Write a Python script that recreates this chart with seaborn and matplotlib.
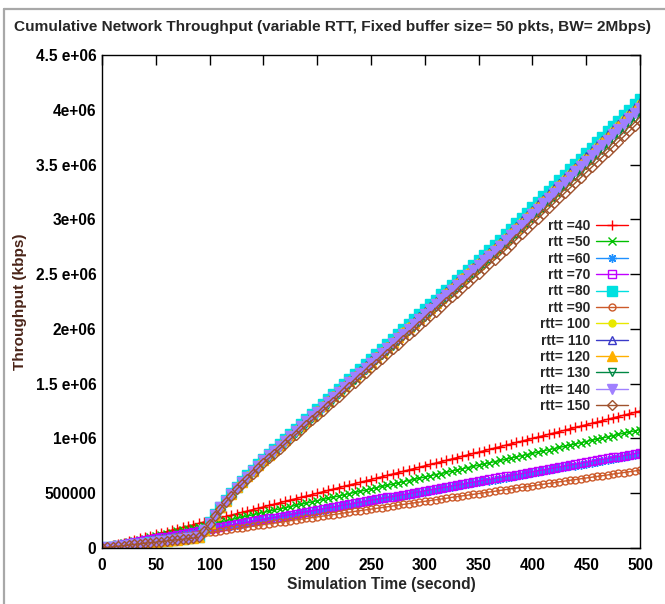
import numpy as np
import pandas as pd
import matplotlib
matplotlib.use("Agg")
import matplotlib.pyplot as plt
from matplotlib.lines import Line2D
import seaborn as sns

# ---------------- data (values in units of 1e6 kbps) ----------------
time_s = list(range(0, 505, 5))

rtt40 = [0.000, 0.013, 0.025, 0.038, 0.050, 0.063, 0.075, 0.088, 0.100, 0.113, 0.125, 0.138, 0.150, 0.163, 0.175, 0.188, 0.200, 0.213, 0.225, 0.238,
         0.250, 0.263, 0.275, 0.288, 0.300, 0.313, 0.325, 0.338, 0.350, 0.363, 0.375, 0.388, 0.400, 0.413, 0.425, 0.438, 0.450, 0.463, 0.475, 0.488,
         0.500, 0.513, 0.525, 0.538, 0.550, 0.563, 0.575, 0.588, 0.600, 0.613, 0.625, 0.638, 0.650, 0.663, 0.675, 0.688, 0.700, 0.713, 0.725, 0.738,
         0.750, 0.763, 0.775, 0.788, 0.800, 0.813, 0.825, 0.838, 0.850, 0.863, 0.875, 0.888, 0.900, 0.913, 0.925, 0.938, 0.950, 0.963, 0.975, 0.988,
         1.000, 1.013, 1.025, 1.038, 1.050, 1.063, 1.075, 1.088, 1.100, 1.113, 1.125, 1.138, 1.150, 1.163, 1.175, 1.188, 1.200, 1.213, 1.225, 1.238,
         1.250]
rtt50 = [0.000, 0.011, 0.022, 0.032, 0.043, 0.054, 0.065, 0.076, 0.086, 0.097, 0.108, 0.119, 0.130, 0.140, 0.151, 0.162, 0.173, 0.184, 0.194, 0.205,
         0.216, 0.227, 0.238, 0.248, 0.259, 0.270, 0.281, 0.292, 0.302, 0.313, 0.324, 0.335, 0.346, 0.356, 0.367, 0.378, 0.389, 0.400, 0.410, 0.421,
         0.432, 0.443, 0.454, 0.464, 0.475, 0.486, 0.497, 0.508, 0.518, 0.529, 0.540, 0.551, 0.562, 0.572, 0.583, 0.594, 0.605, 0.616, 0.626, 0.637,
         0.648, 0.659, 0.670, 0.680, 0.691, 0.702, 0.713, 0.724, 0.734, 0.745, 0.756, 0.767, 0.778, 0.788, 0.799, 0.810, 0.821, 0.832, 0.842, 0.853,
         0.864, 0.875, 0.886, 0.896, 0.907, 0.918, 0.929, 0.940, 0.950, 0.961, 0.972, 0.983, 0.994, 1.004, 1.015, 1.026, 1.037, 1.048, 1.058, 1.069,
         1.080]
rtt60 = [0.000, 0.009, 0.017, 0.026, 0.034, 0.043, 0.051, 0.060, 0.068, 0.077, 0.086, 0.094, 0.103, 0.111, 0.120, 0.128, 0.137, 0.145, 0.154, 0.162,
         0.171, 0.180, 0.188, 0.197, 0.205, 0.214, 0.222, 0.231, 0.239, 0.248, 0.257, 0.265, 0.274, 0.282, 0.291, 0.299, 0.308, 0.316, 0.325, 0.333,
         0.342, 0.351, 0.359, 0.368, 0.376, 0.385, 0.393, 0.402, 0.410, 0.419, 0.428, 0.436, 0.445, 0.453, 0.462, 0.470, 0.479, 0.487, 0.496, 0.504,
         0.513, 0.522, 0.530, 0.539, 0.547, 0.556, 0.564, 0.573, 0.581, 0.590, 0.599, 0.607, 0.616, 0.624, 0.633, 0.641, 0.650, 0.658, 0.667, 0.675,
         0.684, 0.693, 0.701, 0.710, 0.718, 0.727, 0.735, 0.744, 0.752, 0.761, 0.770, 0.778, 0.787, 0.795, 0.804, 0.812, 0.821, 0.829, 0.838, 0.846,
         0.855]
rtt70 = [0.000, 0.009, 0.017, 0.026, 0.035, 0.044, 0.052, 0.061, 0.070, 0.078, 0.087, 0.096, 0.104, 0.113, 0.122, 0.131, 0.139, 0.148, 0.157, 0.165,
         0.174, 0.183, 0.191, 0.200, 0.209, 0.218, 0.226, 0.235, 0.244, 0.252, 0.261, 0.270, 0.278, 0.287, 0.296, 0.305, 0.313, 0.322, 0.331, 0.339,
         0.348, 0.357, 0.365, 0.374, 0.383, 0.392, 0.400, 0.409, 0.418, 0.426, 0.435, 0.444, 0.452, 0.461, 0.470, 0.479, 0.487, 0.496, 0.505, 0.513,
         0.522, 0.531, 0.539, 0.548, 0.557, 0.566, 0.574, 0.583, 0.592, 0.600, 0.609, 0.618, 0.626, 0.635, 0.644, 0.653, 0.661, 0.670, 0.679, 0.687,
         0.696, 0.705, 0.713, 0.722, 0.731, 0.740, 0.748, 0.757, 0.766, 0.774, 0.783, 0.792, 0.800, 0.809, 0.818, 0.827, 0.835, 0.844, 0.853, 0.861,
         0.870]
rtt80 = [0.000, 0.006, 0.011, 0.017, 0.022, 0.028, 0.034, 0.039, 0.045, 0.051, 0.056, 0.062, 0.067, 0.073, 0.079, 0.085, 0.090, 0.096, 0.102,
         0.163, 0.235, 0.306, 0.377, 0.439, 0.500, 0.561, 0.612, 0.663, 0.714, 0.765, 0.816,
         0.861, 0.907, 0.952, 0.998, 1.043, 1.088, 1.134, 1.179, 1.225, 1.270, 1.315, 1.361, 1.406, 1.452, 1.497, 1.542, 1.588, 1.633, 1.678, 1.724,
         1.769, 1.815, 1.860, 1.905, 1.951, 1.996, 2.042, 2.087, 2.132, 2.178, 2.223, 2.268, 2.314, 2.359, 2.405, 2.450, 2.495, 2.541, 2.586, 2.632,
         2.677, 2.722, 2.768, 2.813,
         2.863, 2.912, 2.962, 3.011, 3.060, 3.110, 3.159, 3.209, 3.258, 3.308, 3.357, 3.407, 3.456, 3.506, 3.555, 3.605, 3.654, 3.704, 3.753, 3.803,
         3.852, 3.901, 3.951, 4.000, 4.050, 4.099]
rtt90 = [0.000, 0.007, 0.014, 0.021, 0.028, 0.036, 0.043, 0.050, 0.057, 0.064, 0.071, 0.078, 0.085, 0.092, 0.099, 0.107, 0.114, 0.121, 0.128, 0.135,
         0.142, 0.149, 0.156, 0.163, 0.170, 0.178, 0.185, 0.192, 0.199, 0.206, 0.213, 0.220, 0.227, 0.234, 0.241, 0.249, 0.256, 0.263, 0.270, 0.277,
         0.284, 0.291, 0.298, 0.305, 0.312, 0.320, 0.327, 0.334, 0.341, 0.348, 0.355, 0.362, 0.369, 0.376, 0.383, 0.391, 0.398, 0.405, 0.412, 0.419,
         0.426, 0.433, 0.440, 0.447, 0.454, 0.462, 0.469, 0.476, 0.483, 0.490, 0.497, 0.504, 0.511, 0.518, 0.525, 0.533, 0.540, 0.547, 0.554, 0.561,
         0.568, 0.575, 0.582, 0.589, 0.596, 0.604, 0.611, 0.618, 0.625, 0.632, 0.639, 0.646, 0.653, 0.660, 0.667, 0.675, 0.682, 0.689, 0.696, 0.703,
         0.710]
rtt100 = [0.000, 0.006, 0.011, 0.017, 0.022, 0.028, 0.033, 0.039, 0.044, 0.050, 0.055, 0.061, 0.066, 0.072, 0.077, 0.083, 0.088, 0.094, 0.100,
          0.162, 0.232, 0.303, 0.374, 0.434, 0.495, 0.556, 0.606, 0.657, 0.707, 0.758, 0.808,
          0.853, 0.898, 0.943, 0.988, 1.033, 1.078, 1.123, 1.168, 1.213, 1.257, 1.302, 1.347, 1.392, 1.437, 1.482, 1.527, 1.572, 1.617, 1.662, 1.707,
          1.752, 1.797, 1.842, 1.887, 1.932, 1.977, 2.022, 2.066, 2.111, 2.156, 2.201, 2.246, 2.291, 2.336, 2.381, 2.426, 2.471, 2.516, 2.561, 2.606,
          2.651, 2.696, 2.741, 2.786,
          2.835, 2.884, 2.933, 2.982, 3.031, 3.079, 3.128, 3.177, 3.226, 3.275, 3.324, 3.373, 3.422, 3.471, 3.520, 3.569, 3.618, 3.667, 3.716, 3.765,
          3.814, 3.863, 3.912, 3.961, 4.010, 4.059]
rtt110 = [0.000, 0.006, 0.011, 0.017, 0.022, 0.028, 0.033, 0.039, 0.044, 0.050, 0.055, 0.061, 0.066, 0.072, 0.077, 0.083, 0.088, 0.094, 0.100,
          0.162, 0.233, 0.304, 0.375, 0.436, 0.496, 0.557, 0.608, 0.658, 0.709, 0.760, 0.810,
          0.855, 0.900, 0.945, 0.990, 1.035, 1.080, 1.126, 1.171, 1.216, 1.261, 1.306, 1.351, 1.396, 1.441, 1.486, 1.531, 1.576, 1.621, 1.666, 1.712,
          1.757, 1.802, 1.847, 1.892, 1.937, 1.982, 2.027, 2.072, 2.117, 2.162, 2.207, 2.253, 2.298, 2.343, 2.388, 2.433, 2.478, 2.523, 2.568, 2.613,
          2.658, 2.703, 2.748, 2.793,
          2.843, 2.892, 2.941, 2.990, 3.039, 3.088, 3.137, 3.186, 3.236, 3.285, 3.334, 3.383, 3.432, 3.481, 3.530, 3.580, 3.629, 3.678, 3.727, 3.776,
          3.825, 3.874, 3.923, 3.973, 4.022, 4.071]
rtt120 = [0.000, 0.006, 0.011, 0.017, 0.022, 0.028, 0.033, 0.039, 0.044, 0.050, 0.055, 0.061, 0.066, 0.072, 0.077, 0.083, 0.088, 0.094, 0.100,
          0.161, 0.231, 0.302, 0.372, 0.433, 0.493, 0.553, 0.604, 0.654, 0.704, 0.755, 0.805,
          0.850, 0.894, 0.939, 0.984, 1.029, 1.073, 1.118, 1.163, 1.208, 1.252, 1.297, 1.342, 1.387, 1.432, 1.476, 1.521, 1.566, 1.611, 1.655, 1.700,
          1.745, 1.790, 1.834, 1.879, 1.924, 1.969, 2.014, 2.058, 2.103, 2.148, 2.193, 2.237, 2.282, 2.327, 2.372, 2.416, 2.461, 2.506, 2.551, 2.595,
          2.640, 2.685, 2.730, 2.775,
          2.823, 2.872, 2.921, 2.970, 3.019, 3.067, 3.116, 3.165, 3.214, 3.262, 3.311, 3.360, 3.409, 3.458, 3.506, 3.555, 3.604, 3.653, 3.702, 3.750,
          3.799, 3.848, 3.897, 3.946, 3.994, 4.043]
rtt130 = [0.000, 0.006, 0.011, 0.017, 0.022, 0.028, 0.033, 0.039, 0.044, 0.050, 0.055, 0.061, 0.066, 0.072, 0.077, 0.083, 0.088, 0.094, 0.100,
          0.158, 0.227, 0.296, 0.366, 0.425, 0.484, 0.543, 0.593, 0.642, 0.692, 0.741, 0.790,
          0.834, 0.878, 0.922, 0.966, 1.010, 1.054, 1.098, 1.142, 1.186, 1.230, 1.274, 1.318, 1.362, 1.406, 1.450, 1.494, 1.538, 1.582, 1.626, 1.670,
          1.714, 1.758, 1.802, 1.846, 1.890, 1.934, 1.977, 2.021, 2.065, 2.109, 2.153, 2.197, 2.241, 2.285, 2.329, 2.373, 2.417, 2.461, 2.505, 2.549,
          2.593, 2.637, 2.681, 2.725,
          2.773, 2.821, 2.869, 2.917, 2.964, 3.012, 3.060, 3.108, 3.156, 3.204, 3.252, 3.300, 3.348, 3.396, 3.444, 3.492, 3.540, 3.587, 3.635, 3.683,
          3.731, 3.779, 3.827, 3.875, 3.923, 3.971]
rtt140 = [0.000, 0.006, 0.011, 0.017, 0.022, 0.028, 0.033, 0.039, 0.044, 0.050, 0.055, 0.061, 0.066, 0.072, 0.077, 0.083, 0.088, 0.094, 0.100,
          0.160, 0.230, 0.300, 0.370, 0.430, 0.490, 0.550, 0.600, 0.650, 0.700, 0.750, 0.800,
          0.845, 0.889, 0.934, 0.978, 1.023, 1.067, 1.112, 1.156, 1.201, 1.245, 1.290, 1.334, 1.379, 1.423, 1.468, 1.512, 1.557, 1.601, 1.646, 1.690,
          1.735, 1.779, 1.824, 1.868, 1.913, 1.957, 2.002, 2.046, 2.091, 2.135, 2.180, 2.224, 2.269, 2.313, 2.358, 2.402, 2.447, 2.491, 2.536, 2.580,
          2.625, 2.669, 2.714, 2.758,
          2.807, 2.855, 2.904, 2.952, 3.001, 3.049, 3.098, 3.146, 3.195, 3.243, 3.292, 3.340, 3.389, 3.437, 3.486, 3.534, 3.583, 3.631, 3.680, 3.728,
          3.777, 3.825, 3.874, 3.922, 3.971, 4.019]
rtt150 = [0.000, 0.005, 0.011, 0.016, 0.021, 0.027, 0.032, 0.037, 0.043, 0.048, 0.053, 0.059, 0.064, 0.070, 0.075, 0.080, 0.085, 0.091, 0.097,
          0.155, 0.223, 0.291, 0.359, 0.417, 0.475, 0.534, 0.582, 0.631, 0.679, 0.728, 0.776,
          0.819, 0.862, 0.905, 0.949, 0.992, 1.035, 1.078, 1.121, 1.164, 1.208, 1.251, 1.294, 1.337, 1.380, 1.423, 1.467, 1.510, 1.553, 1.596, 1.639,
          1.683, 1.726, 1.769, 1.812, 1.855, 1.898, 1.942, 1.985, 2.028, 2.071, 2.114, 2.157, 2.201, 2.244, 2.287, 2.330, 2.373, 2.416, 2.460, 2.503,
          2.546, 2.589, 2.632, 2.675,
          2.722, 2.769, 2.816, 2.864, 2.911, 2.958, 3.005, 3.052, 3.099, 3.146, 3.193, 3.240, 3.287, 3.334, 3.381, 3.428, 3.475, 3.522, 3.569, 3.616,
          3.663, 3.710, 3.757, 3.804, 3.851, 3.899]

series_labels = ["rtt =40", "rtt =50", "rtt =60", "rtt =70", "rtt =80", "rtt =90",
                 "rtt= 100", "rtt= 110", "rtt= 120", "rtt= 130", "rtt= 140", "rtt= 150"]
series_values = [rtt40, rtt50, rtt60, rtt70, rtt80, rtt90, rtt100, rtt110, rtt120, rtt130, rtt140, rtt150]

xtick_values = [0, 50, 100, 150, 200, 250, 300, 350, 400, 450, 500]
ytick_values = [0, 500000, 1000000, 1500000, 2000000, 2500000, 3000000, 3500000, 4000000, 4500000]
ytick_labels = ["0", "500000", "1e+06", "1.5 e+06", "2e+06", "2.5 e+06", "3e+06", "3.5 e+06", "4e+06", "4.5 e+06"]

title_text = "Cumulative Network Throughput (variable RTT, Fixed buffer size= 50 pkts, BW= 2Mbps)"

# ---------------- styles ----------------
colors = ["#ff0000", "#00c000", "#1e90ff", "#c000ff", "#00e0e0", "#cc5a2a",
          "#e8e800", "#3a3ac8", "#ffb000", "#008844", "#a080ff", "#a0522d"]
markers = ["+", "x", (8, 2, 0), "s", "s", "o", "o", "^", "^", "v", "v", "D"]
filled = [True, True, True, False, True, False, True, False, True, False, True, False]
msizes = [7.5, 5.8, 6.2, 6.0, 7.2, 5.0, 5.0, 6.2, 6.8, 6.0, 7.0, 4.6]

sns.set_theme(style="white")
plt.rcParams["font.family"] = ["Liberation Sans", "DejaVu Sans"]
plt.rcParams["font.weight"] = "bold"
plt.rcParams["axes.edgecolor"] = "black"
plt.rcParams["axes.linewidth"] = 1.0

W, H = 665, 604
fig = plt.figure(figsize=(W / 100, H / 100), dpi=100)
fig.patch.set_facecolor("white")
ax = fig.add_axes([102 / W, 1 - 548 / H, 538 / W, 493 / H])

frames = []
for lab, vals in zip(series_labels, series_values):
    frames.append(pd.DataFrame({"time": time_s, "thr": np.array(vals) * 1e6, "rtt": lab}))
df = pd.concat(frames, ignore_index=True)

handles = []
for lab, col, mk, fl, ms in zip(series_labels, colors, markers, filled, msizes):
    sub = df[df["rtt"] == lab]
    sns.lineplot(data=sub, x="time", y="thr", ax=ax, color=col, marker=mk,
                 markersize=ms, markerfacecolor=(col if fl else "none"),
                 markeredgecolor=col, markeredgewidth=1.0, linewidth=1.0,
                 errorbar=None, sort=False, legend=False)
    line = ax.lines[-1]
    line.set_label(lab)
    handles.append(line)

ax.set_xlim(0, 500)
ax.set_ylim(0, 4500000)
ax.set_xticks(xtick_values)
ax.set_xticklabels([str(v) for v in xtick_values])
ax.set_yticks(ytick_values)
ax.set_yticklabels(ytick_labels)
ax.tick_params(axis="both", direction="in", length=7, width=1, top=True, right=True,
               labelsize=11.2, colors="black")
ax.tick_params(axis="x", pad=7)
ax.tick_params(axis="y", pad=4)
for lbl in ax.get_xticklabels() + ax.get_yticklabels():
    lbl.set_fontweight("bold")
for sp in ax.spines.values():
    sp.set_visible(True)
    sp.set_color("black")
    sp.set_linewidth(1.0)

ax.set_xlabel("Simulation Time (second)", fontsize=11.2, fontweight="bold", va="center")
ax.xaxis.set_label_coords(0.52, (548 - 585) / 493)
ax.set_ylabel("Throughput (kbps)", fontsize=11.0, fontweight="bold", color="#4a2418", va="center")
ax.yaxis.set_label_coords((20 - 102) / 538, 0.5)

leg = ax.legend(handles=handles, loc="upper right", bbox_to_anchor=((628 - 102) / 538, (548 - 219) / 493),
                frameon=False, markerfirst=False, fontsize=10, handlelength=2.3,
                handletextpad=0.4, labelspacing=0.17, borderpad=0, borderaxespad=0)
for t in leg.get_texts():
    t.set_fontweight("bold")

fig.text(0.5, 1 - 27 / H, title_text, ha="center", va="center", fontsize=11.1, fontweight="bold")

# grey frame at the left and top of the picture
fig.add_artist(Line2D([4 / W, 4 / W], [0, 1 - 9 / H], transform=fig.transFigure, color="#a8a8a8", linewidth=1.6))
fig.add_artist(Line2D([4 / W, 1], [1 - 9 / H, 1 - 9 / H], transform=fig.transFigure, color="#a8a8a8", linewidth=1.6))

fig.savefig("out.png", dpi=100, facecolor="white")
